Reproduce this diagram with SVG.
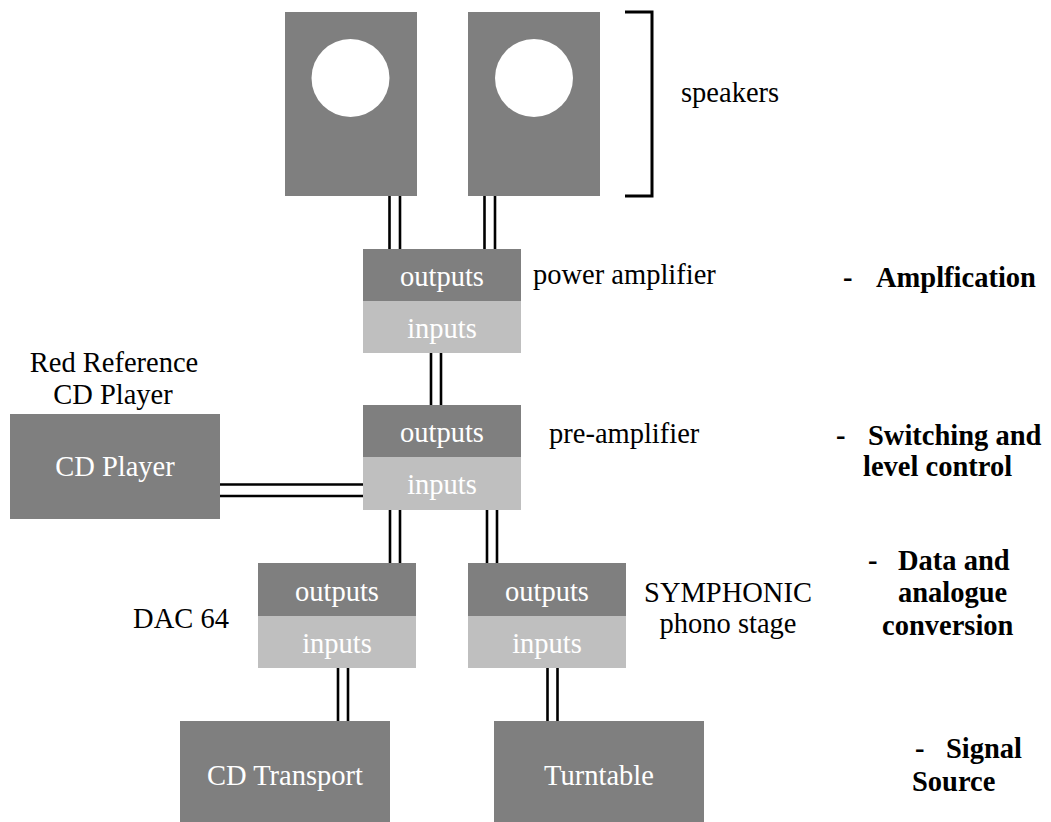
<svg xmlns="http://www.w3.org/2000/svg" width="1051" height="822" viewBox="0 0 1051 822" font-family="Liberation Serif, Times New Roman, serif" font-size="28.5">
<style>
.dk{fill:#7f7f7f}
.lt{fill:#bfbfbf}
.wt{fill:#ffffff;text-anchor:middle}
.lb{fill:#000000}
.bd{fill:#000000;font-weight:bold}
.w{stroke:#000;stroke-width:2.6;fill:none}
</style>
<rect width="1051" height="822" fill="#ffffff"/>
<g id="connectors">
<path class="w" d="M389.5,196V249M400,196V249M484.5,196V249M495,196V249"/>
<path class="w" d="M431,353V405M441,353V405"/>
<path class="w" d="M220,484.5H363M220,496H363"/>
<path class="w" d="M390,510V563M400,510V563M487,510V563M497,510V563"/>
<path class="w" d="M338,668V721M348,668V721M547.5,668V721M557.5,668V721"/>
</g>
<g id="speaker-left">
<rect class="dk" x="285" y="12" width="132" height="184"/>
<circle cx="350.5" cy="78" r="39" fill="#ffffff"/>
</g>
<g id="speaker-right">
<rect class="dk" x="468" y="12" width="132" height="184"/>
<circle cx="534" cy="78" r="39" fill="#ffffff"/>
</g>
<g id="speakers-label">
<path d="M625,12H652V196H625" stroke="#000" stroke-width="3" fill="none"/>
<text class="lb" x="681" y="102" font-family="Liberation Serif, serif">speakers</text>
</g>
<g id="power-amplifier" font-family="Liberation Serif, serif">
<rect class="dk" x="363" y="249" width="158" height="52"/>
<rect class="lt" x="363" y="301" width="158" height="52"/>
<text class="wt" x="442" y="286">outputs</text>
<text class="wt" x="442" y="338">inputs</text>
<text class="lb" x="533" y="284">power amplifier</text>
</g>
<g id="pre-amplifier" font-family="Liberation Serif, serif">
<rect class="dk" x="363" y="405" width="158" height="52"/>
<rect class="lt" x="363" y="457" width="158" height="53"/>
<text class="wt" x="442" y="442">outputs</text>
<text class="wt" x="442" y="494">inputs</text>
<text class="lb" x="549" y="443">pre-amplifier</text>
</g>
<g id="cd-player" font-family="Liberation Serif, serif">
<rect class="dk" x="10" y="414" width="210" height="105"/>
<text class="wt" x="115" y="476">CD Player</text>
<text class="lb" x="114" y="372" text-anchor="middle">Red Reference</text>
<text class="lb" x="113" y="404" text-anchor="middle">CD Player</text>
</g>
<g id="dac" font-family="Liberation Serif, serif">
<rect class="dk" x="258" y="563" width="158" height="53"/>
<rect class="lt" x="258" y="616" width="158" height="52"/>
<text class="wt" x="337" y="601">outputs</text>
<text class="wt" x="337" y="653">inputs</text>
<text class="lb" x="181" y="628" text-anchor="middle">DAC 64</text>
</g>
<g id="phono-stage" font-family="Liberation Serif, serif">
<rect class="dk" x="468" y="563" width="158" height="53"/>
<rect class="lt" x="468" y="616" width="158" height="52"/>
<text class="wt" x="547" y="601">outputs</text>
<text class="wt" x="547" y="653">inputs</text>
<text class="lb" x="728" y="602" text-anchor="middle">SYMPHONIC</text>
<text class="lb" x="728" y="633" text-anchor="middle">phono stage</text>
</g>
<g id="cd-transport" font-family="Liberation Serif, serif">
<rect class="dk" x="180" y="721" width="210" height="101"/>
<text class="wt" x="285" y="785">CD Transport</text>
</g>
<g id="turntable" font-family="Liberation Serif, serif">
<rect class="dk" x="494" y="721" width="210" height="101"/>
<text class="wt" x="599" y="785">Turntable</text>
</g>
<g id="stages" font-family="Liberation Serif, serif">
<text class="bd" x="843" y="287">-<tspan x="876">Amplfication</tspan></text>
<text class="bd" x="836" y="445">-<tspan x="868">Switching and</tspan></text>
<text class="bd" x="863" y="476">level control</text>
<text class="bd" x="868" y="570">-<tspan x="898">Data and</tspan></text>
<text class="bd" x="898" y="602">analogue</text>
<text class="bd" x="882" y="635">conversion</text>
<text class="bd" x="915" y="758">-<tspan x="946">Signal</tspan></text>
<text class="bd" x="912" y="791">Source</text>
</g>
</svg>
